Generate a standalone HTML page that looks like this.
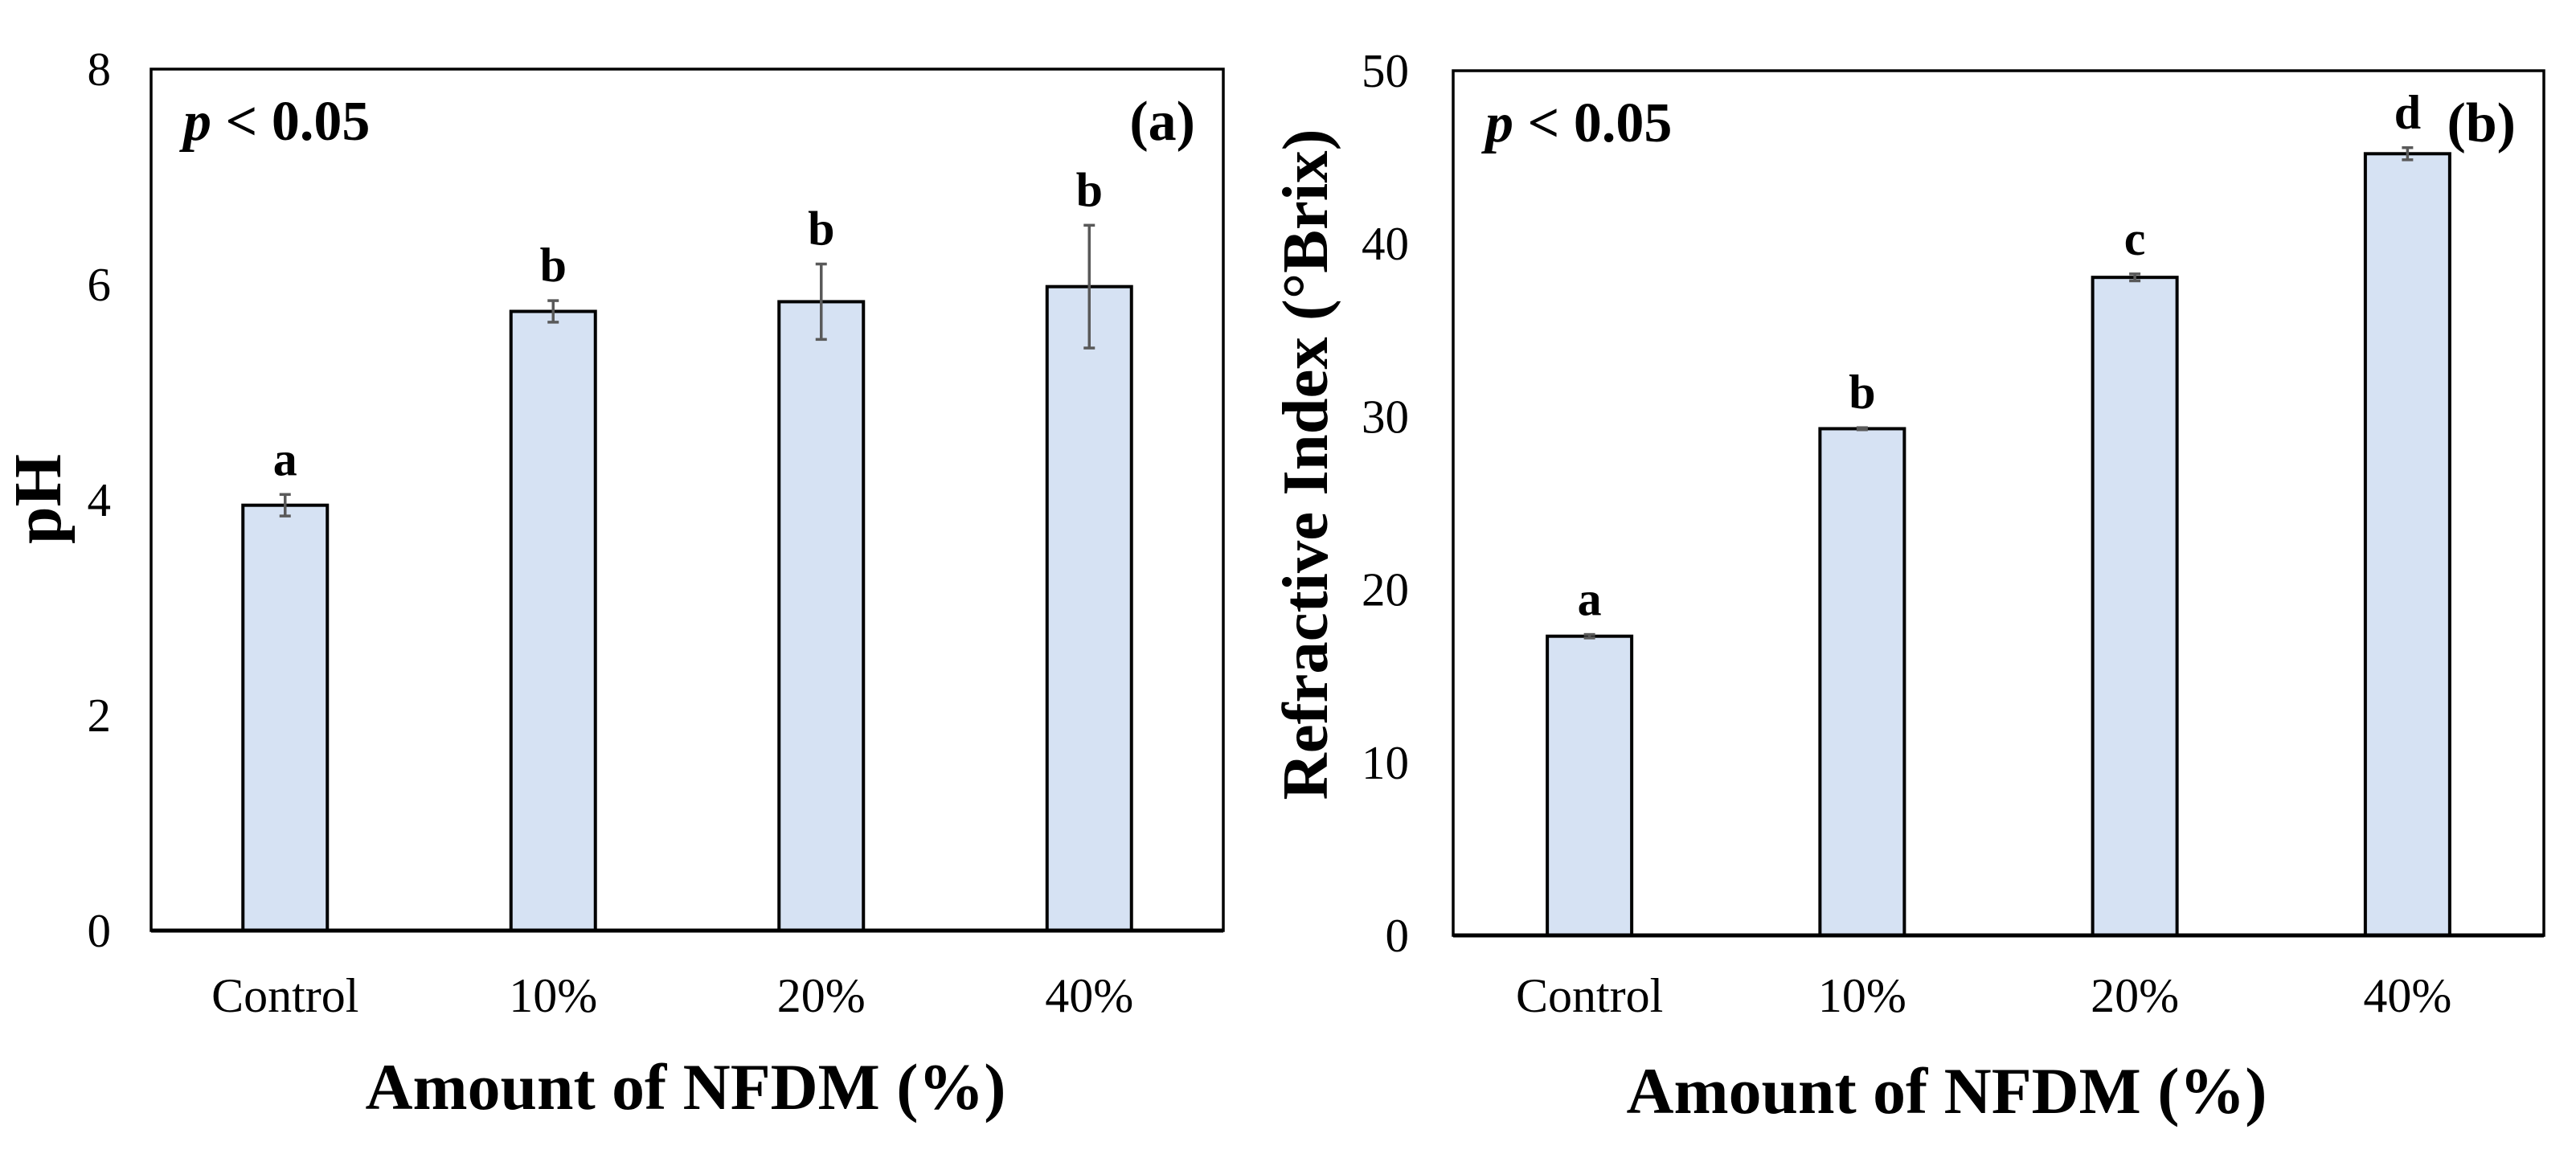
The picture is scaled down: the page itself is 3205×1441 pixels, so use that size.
<!DOCTYPE html>
<html><head><meta charset="utf-8"><style>
html,body{margin:0;padding:0;background:#fff;}
svg{display:block;}
text{font-family:"Liberation Serif",serif;fill:#000;}
</style></head><body>
<svg id="fig" width="3205" height="1441" viewBox="0 0 3205 1441" xmlns="http://www.w3.org/2000/svg">
<rect x="0" y="0" width="3205" height="1441" fill="#fff"/>
<g id="chartA"></g>
<g id="chartB"></g>
</svg>
<script>
const categories = ["Control", "10%", "20%", "40%"];
const phValues = [3.95, 5.75, 5.84, 5.98];
const phErrors = [0.1, 0.1, 0.35, 0.57];
const phLetters = ["a", "b", "b", "b"];
const phTicks = [0, 2, 4, 6, 8];
const brixValues = [17.3, 29.3, 38.05, 45.2];
const brixErrors = [0.1, 0.06, 0.2, 0.35];
const brixLetters = ["a", "b", "c", "d"];
const brixTicks = [0, 10, 20, 30, 40, 50];

const NS = "http://www.w3.org/2000/svg";
function mk(tag, attrs, parent) {
  const e = document.createElementNS(NS, tag);
  for (const k in attrs) e.setAttribute(k, attrs[k]);
  parent.appendChild(e);
  return e;
}

function drawChart(g, cfg) {
  const {L, R, T, B, yMax, values, errors, letters, ticks, panel, yTitle, yTitleX, yTitleY, yTitleLen, yTitleSize, xTitleX, xTitleY, tickRight} = cfg;
  const yScale = v => B - (v / yMax) * (B - T);
  const band = (R - L) / categories.length;
  const xCenter = i => L + band * (i + 0.5);
  const bw = 105;

  categories.forEach((c, i) => {
    const v = values[i];
    const bar = mk("rect", {x: xCenter(i) - bw / 2, y: yScale(v), width: bw, height: B - yScale(v), fill: "#d6e2f3", stroke: "#000", "stroke-width": 4}, g);
    
    
    const top = yScale(v + errors[i]), bot = yScale(v - errors[i]);
    const eg = mk("g", {stroke: "#595959", "stroke-width": 3.5}, g);
    
    
    mk("line", {x1: xCenter(i), x2: xCenter(i), y1: top, y2: bot}, eg);
    mk("line", {x1: xCenter(i) - 7, x2: xCenter(i) + 7, y1: top, y2: top}, eg);
    mk("line", {x1: xCenter(i) - 7, x2: xCenter(i) + 7, y1: bot, y2: bot}, eg);
    const lt = mk("text", {x: xCenter(i), y: top - 24, "text-anchor": "middle", "font-size": 60, "font-weight": "bold"}, g);
    lt.textContent = letters[i];
    
    
    const xl = mk("text", {x: xCenter(i), y: 1259, "text-anchor": "middle", "font-size": 60}, g);
    xl.textContent = c;
    
    
  });

  ticks.forEach(t => {
    const tl = mk("text", {x: tickRight, y: yScale(t) + 20, "text-anchor": "end", "font-size": 59}, g);
    tl.textContent = String(t);
    
    
  });

  const frame = mk("rect", {x: L, y: T, width: R - L, height: B - T, fill: "none", stroke: "#000", "stroke-width": 3.5}, g);
  
  
  const ax = mk("line", {x1: L, x2: R, y1: B, y2: B, stroke: "#000", "stroke-width": 5}, g);
  
  

  const pt = mk("text", {x: L + 40, y: T + 88, "font-size": 70, "font-weight": "bold"}, g);
  pt.innerHTML = '<tspan font-style="italic">p</tspan> &lt; 0.05';
  
  
  const pl = mk("text", {x: R - 35, y: T + 88, "text-anchor": "end", "font-size": 70, "font-weight": "bold"}, g);
  pl.textContent = "(" + panel + ")";
  
  

  const xt = mk("text", {x: xTitleX, y: xTitleY, "text-anchor": "middle", "font-size": 82, "font-weight": "bold", textLength: 797, lengthAdjust: "spacingAndGlyphs"}, g);
  xt.textContent = "Amount of NFDM (%)";
  
  
  const yAttrs = {x: 0, y: 0, "text-anchor": "middle", "font-size": yTitleSize, "font-weight": "bold", transform: "translate(" + yTitleX + "," + yTitleY + ") rotate(-90)"};
  if (yTitleLen) { yAttrs.textLength = yTitleLen; yAttrs.lengthAdjust = "spacingAndGlyphs"; }
  const yt = mk("text", yAttrs, g);
  yt.textContent = yTitle;
  
  
}

drawChart(document.getElementById("chartA"), {L: 188, R: 1522, T: 86, B: 1158, yMax: 8, values: phValues, errors: phErrors, letters: phLetters, ticks: phTicks, panel: "a", yTitle: "pH", yTitleX: 75, yTitleY: 621, yTitleLen: 0, yTitleSize: 84, xTitleX: 853, xTitleY: 1380, tickRight: 138});
drawChart(document.getElementById("chartB"), {L: 1808, R: 3165, T: 88, B: 1164, yMax: 50, values: brixValues, errors: brixErrors, letters: brixLetters, ticks: brixTicks, panel: "b", yTitle: "Refractive Index (°Brix)", yTitleX: 1651, yTitleY: 578, yTitleLen: 835, yTitleSize: 80, xTitleX: 2422, xTitleY: 1385, tickRight: 1753});
</script>
</body></html>
